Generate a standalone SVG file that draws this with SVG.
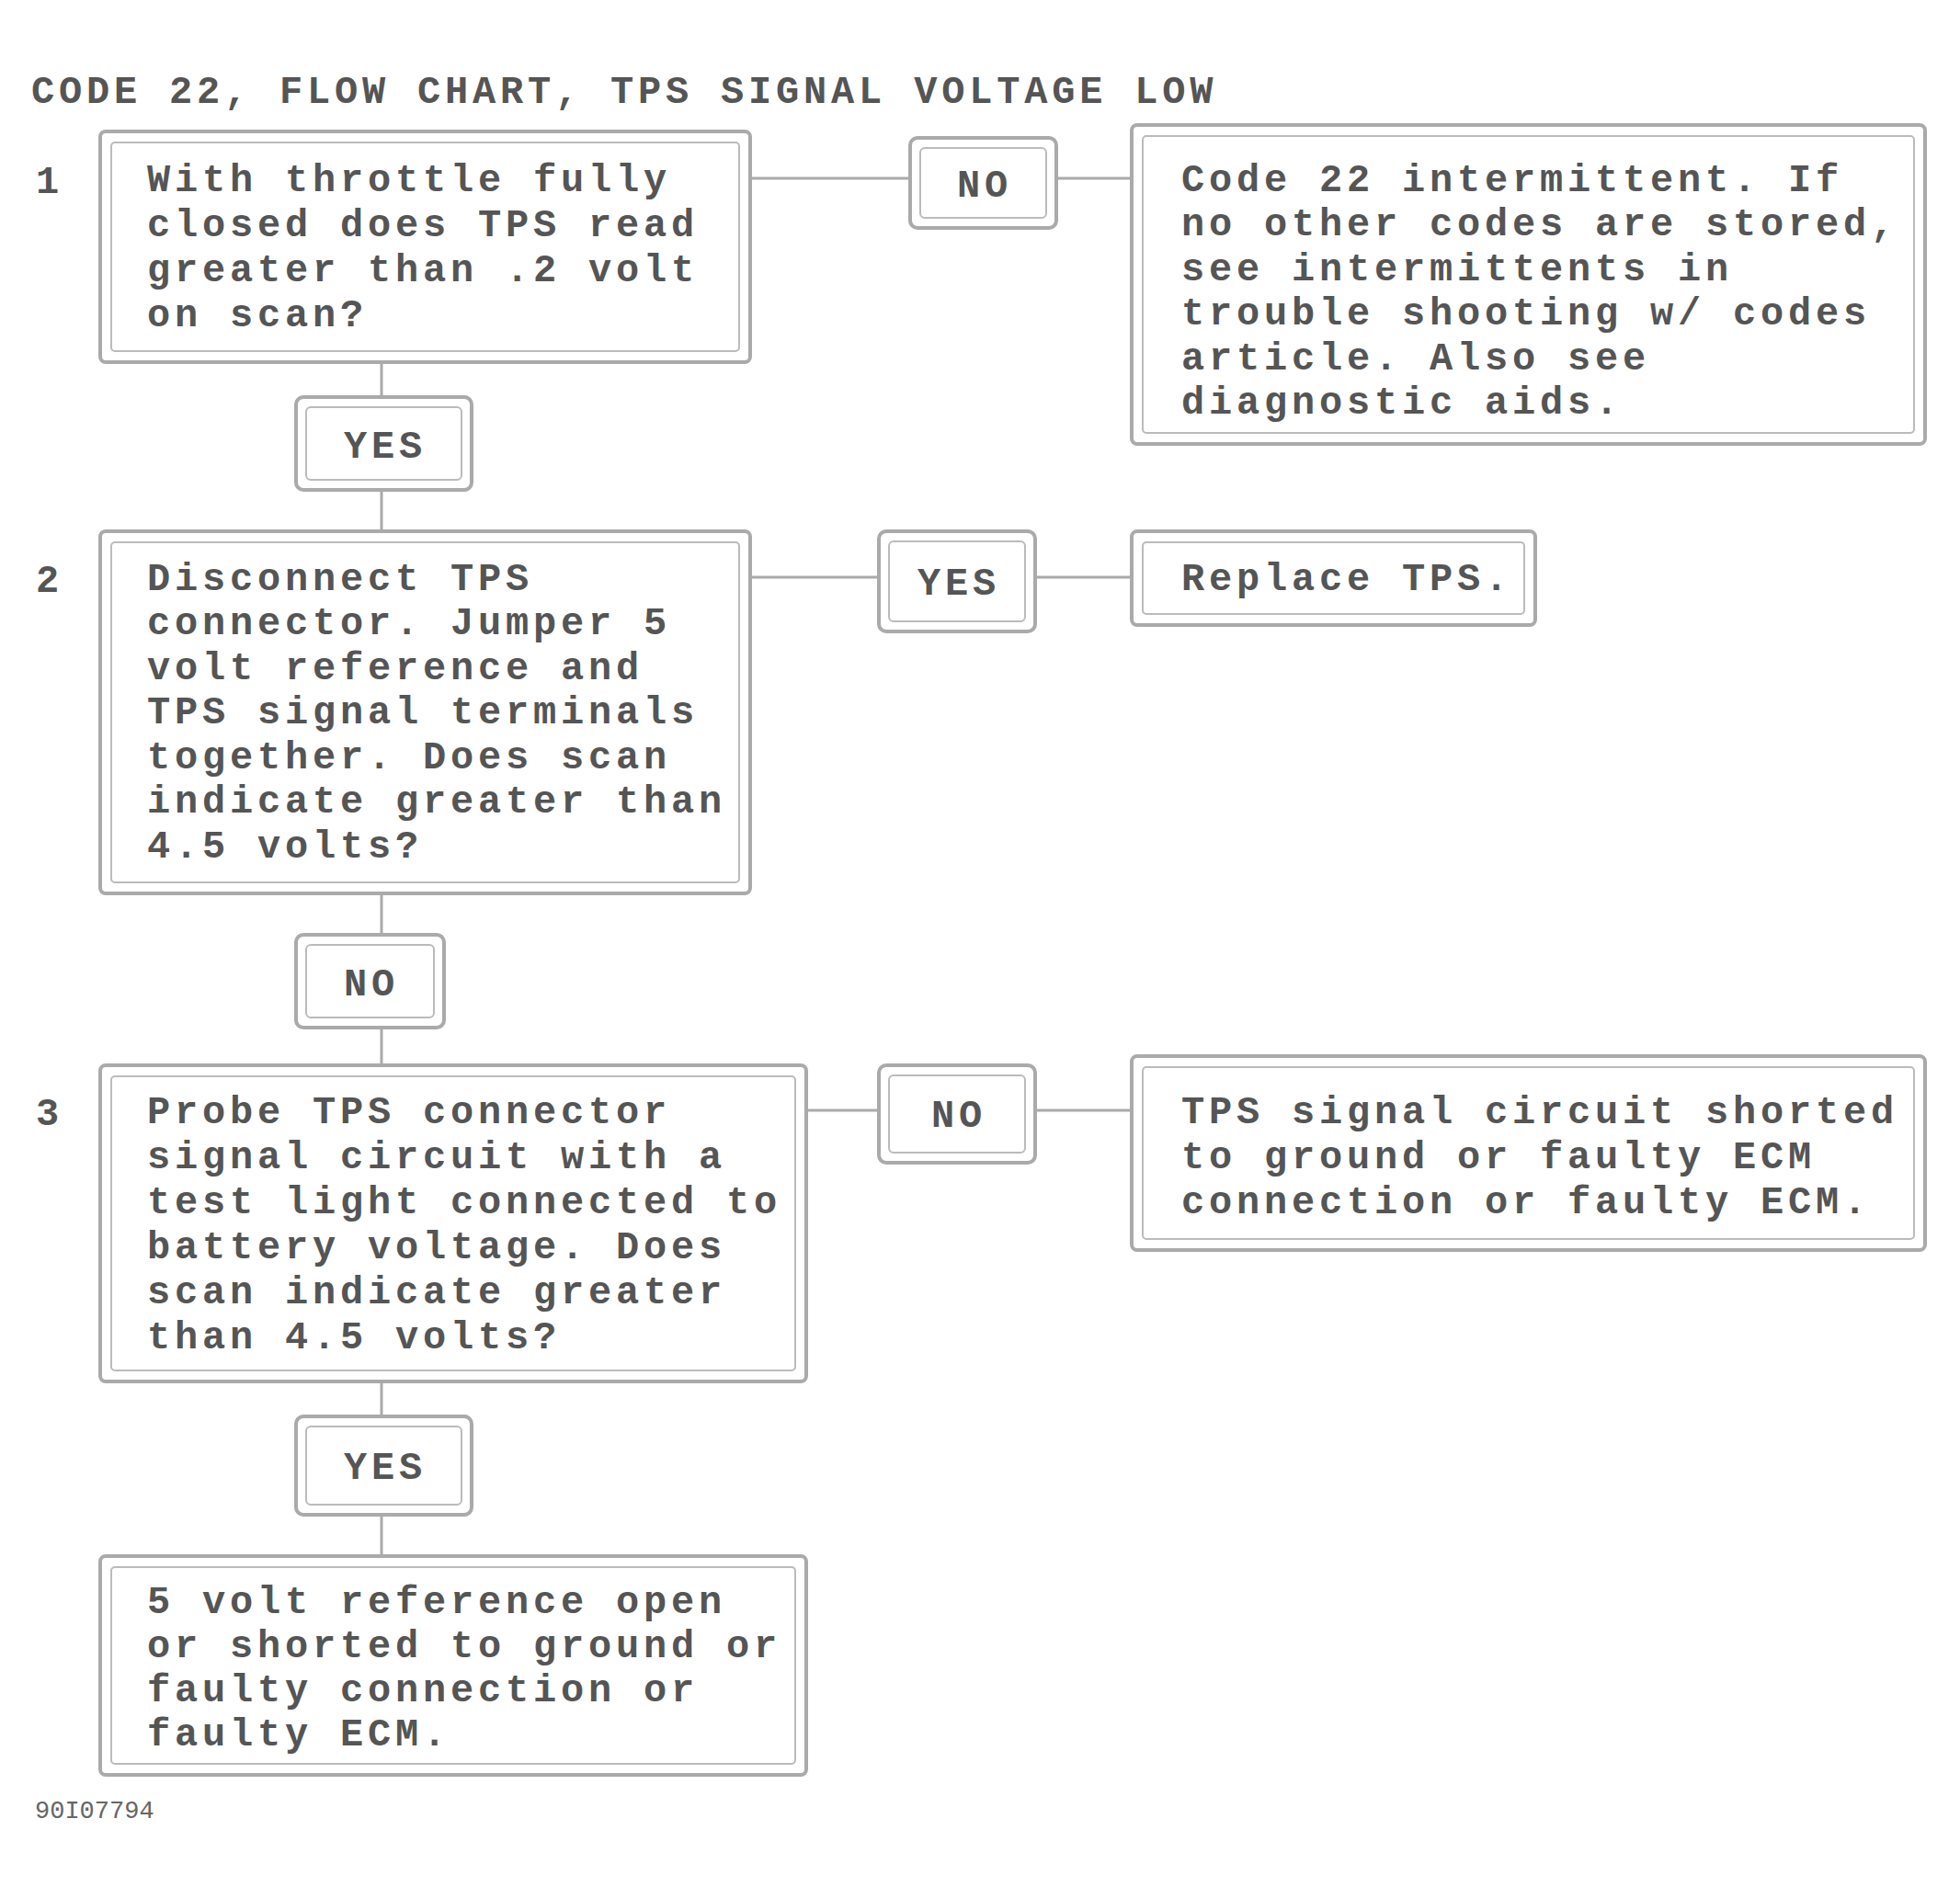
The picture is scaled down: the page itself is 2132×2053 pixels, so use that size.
<svg xmlns="http://www.w3.org/2000/svg" width="2132" height="2053" viewBox="0 0 2132 2053">
<style>
.t{font-family:"Liberation Mono","DejaVu Sans Mono",monospace;font-size:42px;letter-spacing:4.8px;fill:#555;font-weight:bold}
.s{font-family:"Liberation Mono","DejaVu Sans Mono",monospace;font-size:27px;fill:#666}
.o{fill:#fff;stroke:#aaa;stroke-width:4}
.i{fill:none;stroke:#bbb;stroke-width:2}
.c{stroke:#aaa;stroke-width:3;fill:none}
.m{text-anchor:middle}
</style>
<rect width="2132" height="2053" fill="#fff"/>
<text class="t" x="34" y="112">CODE 22, FLOW CHART, TPS SIGNAL VOLTAGE LOW</text>
<g id="connectors">
<line class="c" x1="816" y1="194" x2="990" y2="194"/>
<line class="c" x1="1149" y1="194" x2="1231" y2="194"/>
<line class="c" x1="816" y1="628" x2="956" y2="628"/>
<line class="c" x1="1126" y1="628" x2="1231" y2="628"/>
<line class="c" x1="877" y1="1208" x2="956" y2="1208"/>
<line class="c" x1="1126" y1="1208" x2="1231" y2="1208"/>
<line class="c" x1="415" y1="394" x2="415" y2="432"/>
<line class="c" x1="415" y1="533" x2="415" y2="578"/>
<line class="c" x1="415" y1="972" x2="415" y2="1017"/>
<line class="c" x1="415" y1="1118" x2="415" y2="1159"/>
<line class="c" x1="415" y1="1503" x2="415" y2="1541"/>
<line class="c" x1="415" y1="1648" x2="415" y2="1693"/>
</g>
<g id="step1">
<text class="t m" x="54" y="210">1</text>
<rect class="o" x="109" y="143" width="707" height="251" rx="6"/>
<rect class="i" x="121" y="155" width="683" height="227" rx="4"/>
<text class="t" x="160" y="208">With throttle fully</text>
<text class="t" x="160" y="257">closed does TPS read</text>
<text class="t" x="160" y="306">greater than .2 volt</text>
<text class="t" x="160" y="355">on scan?</text>
</g>
<g id="no1">
<rect class="o" x="990" y="150" width="159" height="98" rx="8"/>
<rect class="i" x="1001" y="161" width="137" height="76" rx="5"/>
<text class="t m" x="1071" y="214">NO</text>
</g>
<g id="result1">
<rect class="o" x="1231" y="136" width="863" height="347" rx="6"/>
<rect class="i" x="1243" y="148" width="839" height="323" rx="4"/>
<text class="t" x="1285" y="208">Code 22 intermittent. If</text>
<text class="t" x="1285" y="256">no other codes are stored,</text>
<text class="t" x="1285" y="305">see intermittents in</text>
<text class="t" x="1285" y="353">trouble shooting w/ codes</text>
<text class="t" x="1285" y="402">article. Also see</text>
<text class="t" x="1285" y="450">diagnostic aids.</text>
</g>
<g id="yes1">
<rect class="o" x="322" y="432" width="191" height="101" rx="8"/>
<rect class="i" x="333" y="443" width="169" height="79" rx="5"/>
<text class="t m" x="419" y="498">YES</text>
</g>
<g id="step2">
<text class="t m" x="54" y="644">2</text>
<rect class="o" x="109" y="578" width="707" height="394" rx="6"/>
<rect class="i" x="121" y="590" width="683" height="370" rx="4"/>
<text class="t" x="160" y="642">Disconnect TPS</text>
<text class="t" x="160" y="690">connector. Jumper 5</text>
<text class="t" x="160" y="739">volt reference and</text>
<text class="t" x="160" y="787">TPS signal terminals</text>
<text class="t" x="160" y="836">together. Does scan</text>
<text class="t" x="160" y="884">indicate greater than</text>
<text class="t" x="160" y="933">4.5 volts?</text>
</g>
<g id="yes2">
<rect class="o" x="956" y="578" width="170" height="109" rx="8"/>
<rect class="i" x="967" y="589" width="148" height="87" rx="5"/>
<text class="t m" x="1043" y="647">YES</text>
</g>
<g id="result2">
<rect class="o" x="1231" y="578" width="439" height="102" rx="6"/>
<rect class="i" x="1243" y="590" width="415" height="78" rx="4"/>
<text class="t" x="1285" y="642">Replace TPS.</text>
</g>
<g id="no2">
<rect class="o" x="322" y="1017" width="161" height="101" rx="8"/>
<rect class="i" x="333" y="1028" width="139" height="79" rx="5"/>
<text class="t m" x="404" y="1083">NO</text>
</g>
<g id="step3">
<text class="t m" x="54" y="1224">3</text>
<rect class="o" x="109" y="1159" width="768" height="344" rx="6"/>
<rect class="i" x="121" y="1171" width="744" height="320" rx="4"/>
<text class="t" x="160" y="1222">Probe TPS connector</text>
<text class="t" x="160" y="1271">signal circuit with a</text>
<text class="t" x="160" y="1320">test light connected to</text>
<text class="t" x="160" y="1369">battery voltage. Does</text>
<text class="t" x="160" y="1418">scan indicate greater</text>
<text class="t" x="160" y="1467">than 4.5 volts?</text>
</g>
<g id="no3">
<rect class="o" x="956" y="1159" width="170" height="106" rx="8"/>
<rect class="i" x="967" y="1170" width="148" height="84" rx="5"/>
<text class="t m" x="1043" y="1226">NO</text>
</g>
<g id="result3">
<rect class="o" x="1231" y="1149" width="863" height="211" rx="6"/>
<rect class="i" x="1243" y="1161" width="839" height="187" rx="4"/>
<text class="t" x="1285" y="1222">TPS signal circuit shorted</text>
<text class="t" x="1285" y="1271">to ground or faulty ECM</text>
<text class="t" x="1285" y="1320">connection or faulty ECM.</text>
</g>
<g id="yes3">
<rect class="o" x="322" y="1541" width="191" height="107" rx="8"/>
<rect class="i" x="333" y="1552" width="169" height="85" rx="5"/>
<text class="t m" x="419" y="1609">YES</text>
</g>
<g id="step4">
<rect class="o" x="109" y="1693" width="768" height="238" rx="6"/>
<rect class="i" x="121" y="1705" width="744" height="214" rx="4"/>
<text class="t" x="160" y="1755">5 volt reference open</text>
<text class="t" x="160" y="1803">or shorted to ground or</text>
<text class="t" x="160" y="1851">faulty connection or</text>
<text class="t" x="160" y="1899">faulty ECM.</text>
</g>
<text class="s" x="38" y="1978">90I07794</text>
</svg>
